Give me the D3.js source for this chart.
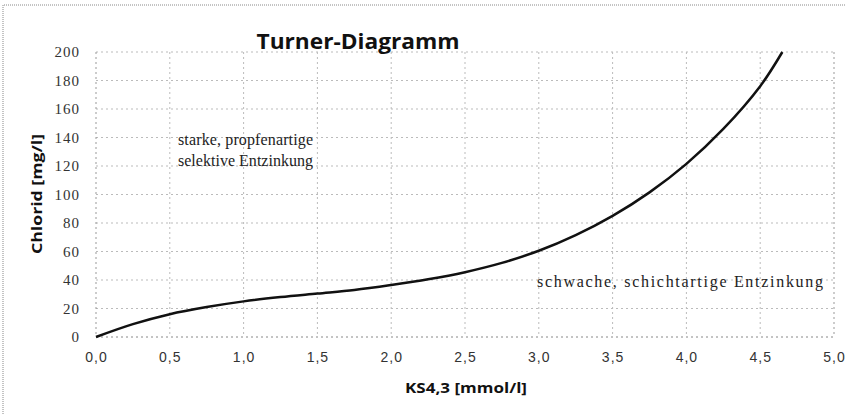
<!DOCTYPE html>
<html><head><meta charset="utf-8">
<script src="https://cdn.jsdelivr.net/npm/d3@7"></script>
<style>body{margin:0;background:#fff}svg{display:block}</style>
</head><body>
<svg id="c" width="846" height="414"></svg>
<script>
const ks = [0, 0.25, 0.5, 0.75, 1.0, 1.25, 1.5, 1.75, 2.0, 2.25, 2.5, 2.75, 3.0, 3.25, 3.5, 3.75, 4.0, 4.25, 4.5, 4.65];
const chlorid = [0, 9, 16, 21, 25, 28, 30.5, 33, 36.5, 40.5, 45.5, 52, 60.5, 71.5, 85, 101.5, 121.5, 146, 176, 200];
const xTicks = [0, 0.5, 1.0, 1.5, 2.0, 2.5, 3.0, 3.5, 4.0, 4.5, 5.0];
const yTicks = [0, 20, 40, 60, 80, 100, 120, 140, 160, 180, 200];
const title = "Turner-Diagramm";
const xLabel = "KS4,3 [mmol/l]";
const yLabel = "Chlorid [mg/l]";
const note1 = ["starke, propfenartige", "selektive Entzinkung"];
const note2 = "schwache, schichtartige Entzinkung";

const svg = d3.select("#c");
const L = 96, R = 834, T = 52, B = 337;
const x = d3.scaleLinear().domain([0, 5]).range([L, R]);
const y = d3.scaleLinear().domain([0, 200]).range([B, T]);
const fmt = d => d3.format(".1f")(d).replace(".", ",");

// outer border (cropped chart frame)
svg.append("path").attr("d", "M3,414 L3,5 L846,5")
  .attr("fill", "none").attr("stroke", "#888").attr("stroke-width", 1).attr("stroke-dasharray", "1,1");

// gridlines
svg.append("g").selectAll("line").data(yTicks).join("line")
  .attr("x1", L).attr("x2", R).attr("y1", d => y(d)).attr("y2", d => y(d))
  .attr("stroke", d => d === 0 ? "#888" : "#bbb").attr("stroke-width", 1).attr("stroke-dasharray", "2,3");
svg.append("g").selectAll("line").data(xTicks).join("line")
  .attr("y1", T).attr("y2", B).attr("x1", d => x(d)).attr("x2", d => x(d))
  .attr("stroke", d => (d === 0 || d === 5) ? "#999" : "#bbb").attr("stroke-width", 1).attr("stroke-dasharray", "2,3");

// axes labels
const yAxis = d3.axisLeft(y).tickValues(yTicks).tickSize(0).tickPadding(16);
const gy = svg.append("g").attr("transform", `translate(${L},0)`).call(yAxis);
gy.select(".domain").remove();
gy.selectAll("text").attr("font-family", "Liberation Serif, serif").attr("font-size", 15)
  .attr("letter-spacing", 1).attr("fill", "#333");

const xAxis = d3.axisBottom(x).tickValues(xTicks).tickFormat(fmt).tickSize(0).tickPadding(15);
const gx = svg.append("g").attr("transform", `translate(0,${B})`).call(xAxis);
gx.select(".domain").remove();
gx.selectAll("text").attr("font-family", "Liberation Sans, sans-serif").attr("font-size", 14)
  .attr("letter-spacing", 1).attr("fill", "#333");

// curve
const line = d3.line().x((d, i) => x(ks[i])).y(d => y(d)).curve(d3.curveCatmullRom.alpha(0.5));
svg.append("path").datum(chlorid).attr("d", line)
  .attr("fill", "none").attr("stroke", "#111").attr("stroke-width", 2.5);

// title
svg.append("text").attr("x", 358).attr("y", 49).attr("text-anchor", "middle")
  .attr("font-family", "Open Sans, sans-serif").attr("font-weight", "bold").attr("font-size", 22)
  .attr("textLength", 203).attr("lengthAdjust", "spacingAndGlyphs")
  .attr("fill", "#111").text(title);

svg.append("text").attr("x", 466).attr("y", 393).attr("text-anchor", "middle")
  .attr("font-family", "Open Sans, sans-serif").attr("font-weight", "bold").attr("font-size", 15)
  .attr("textLength", 122).attr("lengthAdjust", "spacingAndGlyphs")
  .attr("fill", "#111").text(xLabel);

svg.append("text").attr("transform", "translate(42,194) rotate(-90)").attr("text-anchor", "middle")
  .attr("font-family", "Open Sans, sans-serif").attr("font-weight", "bold").attr("font-size", 15)
  .attr("textLength", 120).attr("lengthAdjust", "spacingAndGlyphs")
  .attr("fill", "#111").text(yLabel);

// annotations
svg.append("g").selectAll("text").data(note1).join("text")
  .attr("x", 178).attr("y", (d, i) => 145 + i * 21)
  .attr("font-family", "Liberation Serif, serif").attr("font-size", 16)
  .attr("textLength", 135).attr("lengthAdjust", "spacing")
  .attr("fill", "#222").text(d => d);
svg.append("text").attr("x", 537).attr("y", 287)
  .attr("font-family", "Liberation Serif, serif").attr("font-size", 16)
  .attr("textLength", 286).attr("lengthAdjust", "spacing")
  .attr("fill", "#222").text(note2);
</script>
</body></html>
